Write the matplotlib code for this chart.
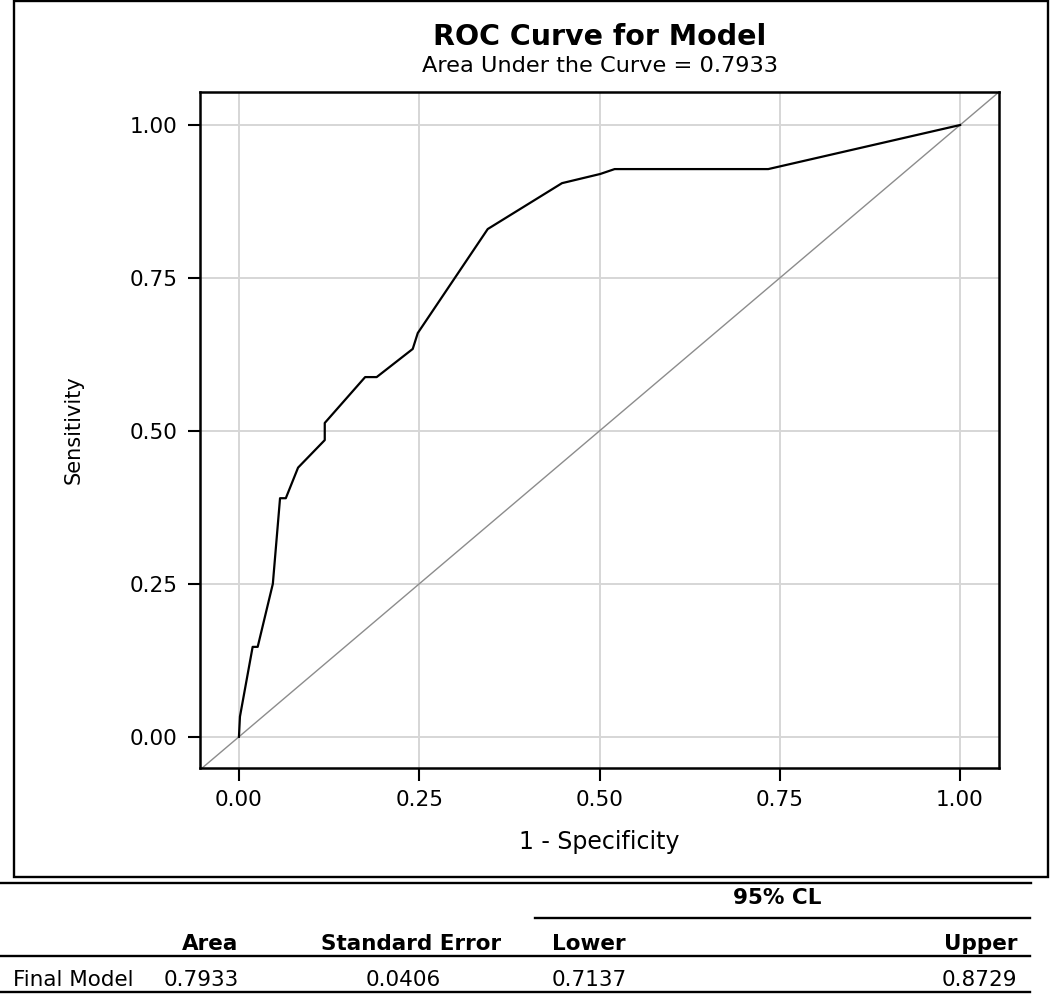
import matplotlib.pyplot as plt
from matplotlib.patches import Rectangle
from matplotlib.lines import Line2D

# ROC points
fpr = [0.0, 0.0, 0.0014, 0.019, 0.026, 0.047, 0.057, 0.065, 0.082, 0.119, 0.119,
       0.175, 0.191, 0.241, 0.248, 0.345, 0.448, 0.501, 0.521, 0.734, 1.0]
tpr = [0.0, 0.0, 0.033, 0.147, 0.147, 0.25, 0.39, 0.39, 0.44, 0.485, 0.513,
       0.588, 0.588, 0.634, 0.660, 0.830, 0.905, 0.920, 0.928, 0.928, 1.0]

ticks = [0.0, 0.25, 0.5, 0.75, 1.0]
tick_labels = ['0.00', '0.25', '0.50', '0.75', '1.00']

auc_text = 'Area Under the Curve = 0.7933'

# summary table
tbl_header = ['Area', 'Standard Error', 'Lower', 'Upper']
tbl_row_name = 'Final Model'
tbl_values = ['0.7933', '0.0406', '0.7137', '0.8729']

W, H = 1050, 994
fig = plt.figure(figsize=(W / 100, H / 100), dpi=100)


def fx(px):
    return px / W


def fy(py):
    return 1 - py / H


ax = fig.add_axes([fx(200), fy(768), fx(999) - fx(200), fy(92) - fy(768)])

ax.set_xlim(-0.054, 1.054)
ax.set_ylim(-0.051, 1.054)
ax.set_xticks(ticks)
ax.set_yticks(ticks)
ax.set_xticklabels(tick_labels)
ax.set_yticklabels(tick_labels)
ax.grid(True, color='#d6d6d6', lw=1.4)
ax.set_axisbelow(True)
ax.tick_params(direction='out', length=9, width=1.5, labelsize=15.5, pad=7)
for s in ax.spines.values():
    s.set_linewidth(1.8)

ax.axline((0, 0), (1, 1), color='#8c8c8c', lw=1.0)
ax.plot(fpr, tpr, color='black', lw=1.6)

ax.set_xlabel('1 - Specificity', fontsize=17, labelpad=14)
ax.set_ylabel('Sensitivity', fontsize=15, labelpad=33)

fig.text(fx(600), fy(45), 'ROC Curve for Model', fontsize=20.5, fontweight='bold',
         ha='center', va='baseline')
fig.text(fx(600), fy(72), auc_text, fontsize=16.2, ha='center', va='baseline')

# outer frame around the graph
fig.patches.append(Rectangle((fx(14), fy(877)), fx(1048) - fx(14), fy(1) - fy(877),
                             transform=fig.transFigure, fill=False, lw=1.7,
                             edgecolor='black'))

# table rules
for x0, x1, y in [(0, 1031, 883), (535, 1030, 918), (0, 1030, 956), (0, 1030, 992)]:
    fig.lines.append(Line2D([fx(x0), fx(x1)], [fy(y), fy(y)],
                            transform=fig.transFigure, color='black', lw=1.7))

tsize = 15.5
fig.text(fx(777), fy(904), '95% CL', fontsize=tsize, fontweight='bold',
         ha='center', va='baseline')
fig.text(fx(238), fy(950), tbl_header[0], fontsize=tsize, fontweight='bold',
         ha='right', va='baseline')
fig.text(fx(411), fy(950), tbl_header[1], fontsize=tsize, fontweight='bold',
         ha='center', va='baseline')
fig.text(fx(552), fy(950), tbl_header[2], fontsize=tsize, fontweight='bold',
         ha='left', va='baseline')
fig.text(fx(1017), fy(950), tbl_header[3], fontsize=tsize, fontweight='bold',
         ha='right', va='baseline')

fig.text(fx(13), fy(986), tbl_row_name, fontsize=tsize, ha='left', va='baseline')
fig.text(fx(239), fy(986), tbl_values[0], fontsize=tsize, ha='right', va='baseline')
fig.text(fx(403), fy(986), tbl_values[1], fontsize=tsize, ha='center', va='baseline')
fig.text(fx(552), fy(986), tbl_values[2], fontsize=tsize, ha='left', va='baseline')
fig.text(fx(1017), fy(986), tbl_values[3], fontsize=tsize, ha='right', va='baseline')

fig.savefig('out.png', dpi=100)
